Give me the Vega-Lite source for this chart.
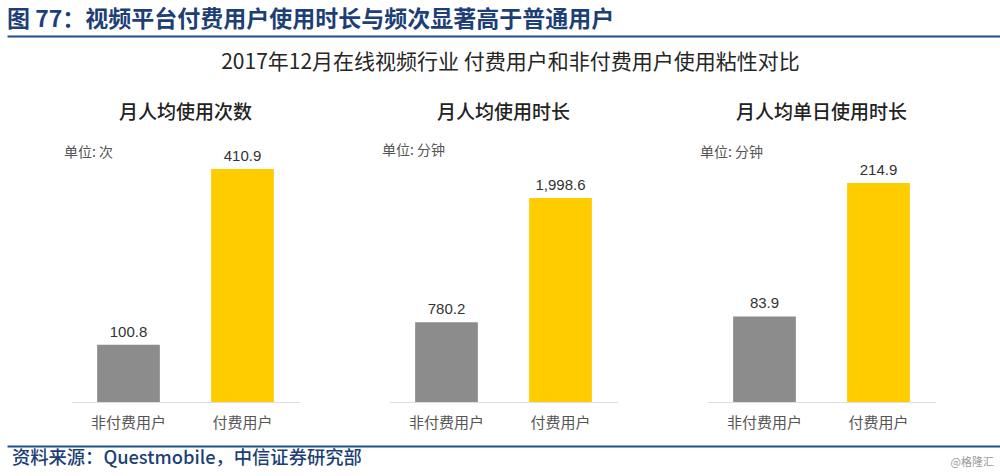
{
  "$schema": "https://vega.github.io/schema/vega-lite/v6.json",
  "padding": {"left": 7, "right": 0, "top": 8, "bottom": 0},
  "background": "white",
  "config": {
    "view": {"stroke": null},
    "font": "Noto Sans CJK SC",
    "title": {"font": "Noto Sans CJK SC"}
  },
  "datasets": {
    "bars": [
      {"panel": "月人均使用次数", "group": "非付费用户", "value": 100.8},
      {"panel": "月人均使用次数", "group": "付费用户", "value": 410.9},
      {"panel": "月人均使用时长", "group": "非付费用户", "value": 780.2},
      {"panel": "月人均使用时长", "group": "付费用户", "value": 1998.6},
      {"panel": "月人均单日使用时长", "group": "非付费用户", "value": 83.9},
      {"panel": "月人均单日使用时长", "group": "付费用户", "value": 214.9}
    ],
    "header": [{"v": 0}],
    "footer": [
      {"side": 0, "label": "资料来源：Questmobile，中信证券研究部"},
      {"side": 1, "label": "@格隆汇"}
    ]
  },
  "vconcat": [
    {
      "width": 993,
      "height": 1,
      "data": {"name": "header"},
      "title": {
        "text": "图 77：视频平台付费用户使用时长与频次显著高于普通用户",
        "anchor": "start",
        "fontSize": 23,
        "fontWeight": "bold",
        "color": "#1d3f76",
        "offset": 2
      },
      "mark": {"type": "point", "opacity": 0},
      "encoding": {
        "x": {
          "field": "v",
          "type": "quantitative",
          "axis": {"orient": "top", "domainColor": "#1f4e8c", "domainWidth": 2, "ticks": false, "labels": false, "grid": false, "title": null}
        }
      }
    },
    {
      "title": {
        "text": "2017年12月在线视频行业 付费用户和非付费用户使用粘性对比",
        "anchor": "middle",
        "fontSize": 21,
        "fontWeight": "normal",
        "color": "#262626",
        "offset": 31,
        "dx": 11
      },
      "spacing": 82,
      "hconcat": [
        {
          "width": 228,
          "height": 260,
          "data": {"name": "bars"},
          "title": {"text": "月人均使用次数", "fontSize": 19, "fontWeight": 500, "color": "#222222", "offset": 19},
          "transform": [{"filter": "datum.panel === '月人均使用次数'"}],
          "encoding": {
            "x": {
              "field": "group", "type": "nominal", "sort": ["非付费用户", "付费用户"],
              "scale": {"paddingInner": 0.45, "paddingOuter": 0.225},
              "axis": {"title": null, "labelAngle": 0, "ticks": false, "domainColor": "#dddddd", "labelPadding": 13, "labelFontSize": 15, "labelColor": "#555555", "labelFont": "Noto Sans CJK SC"}
            },
            "y": {
              "field": "value", "type": "quantitative", "scale": {"domain": [0, 458.5], "nice": false},
              "axis": {"title": "单位: 次", "domain": false, "ticks": false, "labels": false, "grid": false, "titleAngle": 0, "titleAlign": "left", "titleBaseline": "middle", "titleX": -8, "titleY": 10, "titleFontSize": 14, "titleFontWeight": "normal", "titleColor": "#555555", "titleFont": "Noto Sans CJK SC"}
            }
          },
          "layer": [
            {"mark": {"type": "bar"}, "encoding": {"color": {"field": "group", "type": "nominal", "scale": {"domain": ["非付费用户", "付费用户"], "range": ["#8c8c8c", "#ffcc00"]}, "legend": null}}},
            {"mark": {"type": "text", "dy": -13, "baseline": "middle", "font": "Liberation Sans", "fontSize": 15, "color": "#333333"}, "encoding": {"text": {"field": "value", "type": "quantitative", "format": ",.1f"}}}
          ]
        },
        {
          "width": 228,
          "height": 260,
          "data": {"name": "bars"},
          "title": {"text": "月人均使用时长", "fontSize": 19, "fontWeight": 500, "color": "#222222", "offset": 19},
          "transform": [{"filter": "datum.panel === '月人均使用时长'"}],
          "encoding": {
            "x": {
              "field": "group", "type": "nominal", "sort": ["非付费用户", "付费用户"],
              "scale": {"paddingInner": 0.45, "paddingOuter": 0.225},
              "axis": {"title": null, "labelAngle": 0, "ticks": false, "domainColor": "#dddddd", "labelPadding": 13, "labelFontSize": 15, "labelColor": "#555555", "labelFont": "Noto Sans CJK SC"}
            },
            "y": {
              "field": "value", "type": "quantitative", "scale": {"domain": [0, 2547], "nice": false},
              "axis": {"title": "单位: 分钟", "domain": false, "ticks": false, "labels": false, "grid": false, "titleAngle": 0, "titleAlign": "left", "titleBaseline": "middle", "titleX": -8, "titleY": 8, "titleFontSize": 14, "titleFontWeight": "normal", "titleColor": "#555555", "titleFont": "Noto Sans CJK SC"}
            }
          },
          "layer": [
            {"mark": {"type": "bar"}, "encoding": {"color": {"field": "group", "type": "nominal", "scale": {"domain": ["非付费用户", "付费用户"], "range": ["#8c8c8c", "#ffcc00"]}, "legend": null}}},
            {"mark": {"type": "text", "dy": -13, "baseline": "middle", "font": "Liberation Sans", "fontSize": 15, "color": "#333333"}, "encoding": {"text": {"field": "value", "type": "quantitative", "format": ",.1f"}}}
          ]
        },
        {
          "width": 228,
          "height": 260,
          "data": {"name": "bars"},
          "title": {"text": "月人均单日使用时长", "fontSize": 19, "fontWeight": 500, "color": "#222222", "offset": 19},
          "transform": [{"filter": "datum.panel === '月人均单日使用时长'"}],
          "encoding": {
            "x": {
              "field": "group", "type": "nominal", "sort": ["非付费用户", "付费用户"],
              "scale": {"paddingInner": 0.45, "paddingOuter": 0.225},
              "axis": {"title": null, "labelAngle": 0, "ticks": false, "domainColor": "#dddddd", "labelPadding": 13, "labelFontSize": 15, "labelColor": "#555555", "labelFont": "Noto Sans CJK SC"}
            },
            "y": {
              "field": "value", "type": "quantitative", "scale": {"domain": [0, 255.1], "nice": false},
              "axis": {"title": "单位: 分钟", "domain": false, "ticks": false, "labels": false, "grid": false, "titleAngle": 0, "titleAlign": "left", "titleBaseline": "middle", "titleX": -8, "titleY": 10, "titleFontSize": 14, "titleFontWeight": "normal", "titleColor": "#555555", "titleFont": "Noto Sans CJK SC"}
            }
          },
          "layer": [
            {"mark": {"type": "bar"}, "encoding": {"color": {"field": "group", "type": "nominal", "scale": {"domain": ["非付费用户", "付费用户"], "range": ["#8c8c8c", "#ffcc00"]}, "legend": null}}},
            {"mark": {"type": "text", "dy": -13, "baseline": "middle", "font": "Liberation Sans", "fontSize": 15, "color": "#333333"}, "encoding": {"text": {"field": "value", "type": "quantitative", "format": ",.1f"}}}
          ]
        }
      ]
    },
    {
      "width": 993,
      "height": 36,
      "data": {"name": "footer"},
      "encoding": {
        "x": {
          "field": "side", "type": "quantitative", "scale": {"domain": [0, 1], "nice": false},
          "axis": {"orient": "top", "offset": -4, "domainColor": "#1f4e8c", "domainWidth": 2, "ticks": false, "labels": false, "grid": false, "title": null}
        }
      },
      "layer": [
        {"transform": [{"filter": "datum.side === 0"}], "mark": {"type": "text", "align": "left", "baseline": "middle", "fontSize": 18.3, "fontWeight": 500, "color": "#1d3f76", "dx": 5, "dy": -1}, "encoding": {"text": {"field": "label"}}},
        {"transform": [{"filter": "datum.side === 1"}], "mark": {"type": "text", "align": "right", "baseline": "middle", "fontSize": 11, "color": "#999999", "dx": -6, "dy": 3}, "encoding": {"text": {"field": "label"}}}
      ]
    }
  ],
  "spacing": 12,
  "center": true
}
